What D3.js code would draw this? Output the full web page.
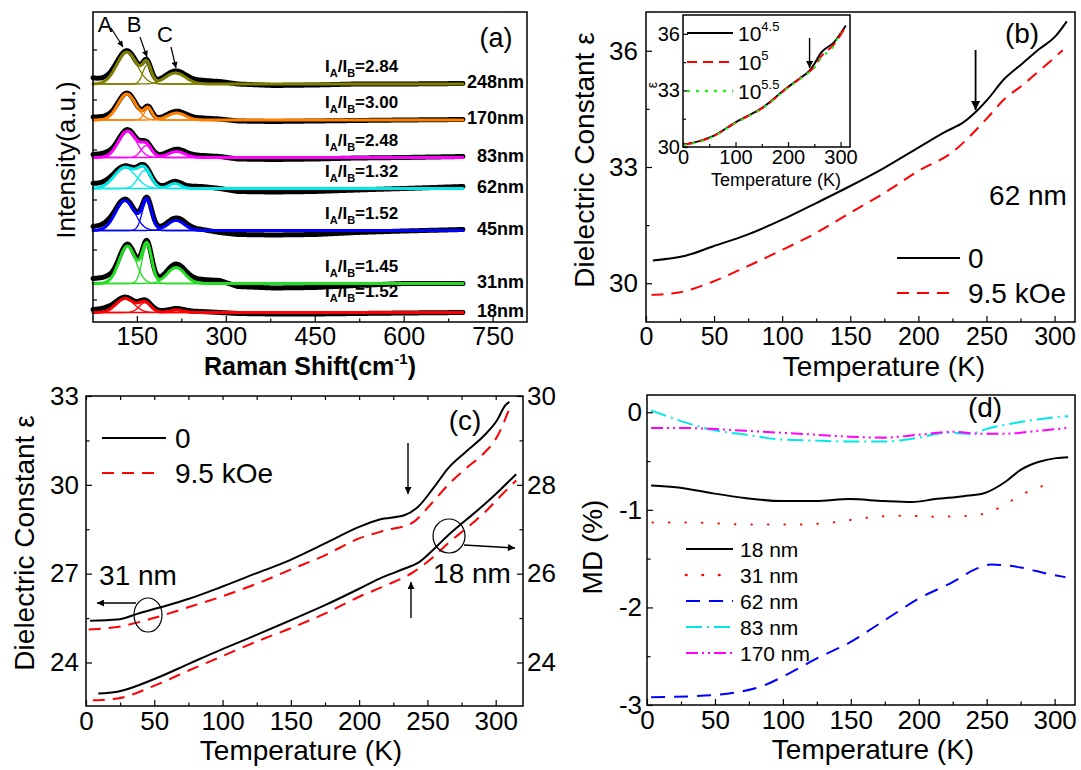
<!DOCTYPE html>
<html>
<head>
<meta charset="utf-8">
<title>Raman / dielectric</title>
<script src="https://cdn.jsdelivr.net/npm/d3@7"></script>
<style>
body { margin: 0; background: #fff; }
text { font-family: "Liberation Sans", Arial, sans-serif; fill: #000; }
.box { fill: none; stroke: #000; stroke-width: 1.5px; }
.tick line { stroke: #000; stroke-width: 1.2px; }
.curve { fill: none; stroke-width: 2px; }
</style>
</head>
<body>
<script>
// ---------- (a) Raman spectra ----------
var ramanMajor = [150, 300, 450, 600, 750];
var ramanMinor = [225, 375, 525, 675];
var sizes  = ["248nm", "170nm", "83nm", "62nm", "45nm", "31nm", "18nm"];
var ratios = ["2.84", "3.00", "2.48", "1.32", "1.52", "1.45", "1.52"];
var specColors = ["#7f7f00", "#ff8000", "#ff00ff", "#00e8e8", "#0000ff", "#22dd22", "#ff0000"];
var offsets = [4.31, 3.59, 2.84, 2.22, 1.38, 0.32, -0.26];
// [centre cm-1, height, sigma]
var peakA = [[133, 0.64, 17], [133, 0.52, 15], [134, 0.53, 15], [130, 0.42, 18], [130, 0.60, 16], [134, 0.75, 14], [130, 0.28, 15]];
var peakB = [[167, 0.38, 7], [169, 0.23, 6.5], [166, 0.24, 9], [163, 0.36, 11], [167, 0.60, 8], [167, 0.78, 8], [164, 0.20, 10]];
var peakC = [[215, 0.22, 17], [217, 0.14, 15], [217, 0.12, 14], [214, 0.10, 10], [216, 0.20, 14], [216, 0.32, 15], [217, 0.05, 12]];
var bgShift = [76, 100, 125, 175, 230, 260, 290, 320, 380, 450, 520, 600, 700];
var bgDev = [
  [0.12, 0.08, 0.03, 0.02, 0.05, 0.07, 0.05, 0.00, -0.03, -0.02, 0.00, 0.00, 0.01],
  [0.06, 0.06, 0.02, 0.02, 0.04, 0.04, 0.02, -0.02, -0.03, -0.02, -0.01, 0.00, 0.01],
  [0.06, 0.08, 0.03, 0.03, 0.05, 0.04, 0.02, -0.03, -0.04, -0.03, -0.01, 0.00, 0.02],
  [0.10, 0.08, 0.03, 0.03, 0.05, 0.04, 0.00, -0.06, -0.07, -0.06, -0.03, 0.00, 0.04],
  [0.08, 0.10, 0.03, 0.03, 0.06, 0.02, -0.04, -0.08, -0.09, -0.08, -0.04, -0.01, 0.02],
  [0.10, 0.12, 0.04, 0.04, 0.08, 0.08, 0.06, -0.06, -0.09, -0.08, -0.04, 0.00, 0.00],
  [0.06, 0.08, 0.03, 0.03, 0.03, 0.02, 0.00, -0.02, -0.03, -0.03, -0.02, -0.01, 0.00]
];

// ---------- (b) 62 nm ----------
var bT0 = [5, 29, 49, 74, 100, 125, 150, 175, 200, 221, 233, 243, 251, 263, 276, 289, 300, 309];
var bE0 = [30.59, 30.71, 30.95, 31.25, 31.64, 32.07, 32.51, 32.98, 33.50, 33.93, 34.15, 34.45, 34.75, 35.27, 35.66, 36.05, 36.35, 36.76];
var bT1 = [4, 24, 49, 74, 100, 125, 150, 175, 200, 226, 238, 251, 263, 276, 289, 306];
var bE1 = [29.70, 29.76, 30.04, 30.43, 30.86, 31.30, 31.82, 32.33, 32.90, 33.41, 33.80, 34.28, 34.75, 35.10, 35.49, 36.01];
// inset, three frequencies
var iT   = [1, 24, 56, 101, 153, 198, 224, 240, 250, 263, 288, 310];
var iE45 = [30.14, 30.26, 30.56, 31.32, 32.12, 33.14, 33.67, 34.02, 34.40, 35.00, 35.56, 36.44];
var iE5  = [30.12, 30.24, 30.55, 31.30, 32.10, 33.12, 33.65, 33.98, 34.25, 34.80, 35.45, 36.40];
var iT55 = [1, 24, 56, 101, 153, 198, 224, 240, 250, 263, 288, 300];
var iE55 = [30.10, 30.22, 30.53, 31.28, 32.08, 33.10, 33.62, 33.95, 34.20, 34.72, 35.40, 36.10];

// ---------- (c) 31 nm (left axis) and 18 nm (right axis) ----------
var c31T0 = [3, 23, 38, 56, 76, 99, 124, 149, 175, 200, 215, 233, 243, 255, 265, 278, 291, 301, 307, 310];
var c31E0 = [25.41, 25.45, 25.65, 25.88, 26.16, 26.55, 27.00, 27.45, 28.02, 28.58, 28.83, 28.97, 29.25, 29.93, 30.55, 31.11, 31.64, 32.18, 32.68, 32.80];
var c31T1 = [2, 23, 51, 76, 99, 124, 149, 175, 200, 220, 238, 253, 265, 278, 291, 301, 310];
var c31E1 = [25.11, 25.20, 25.52, 25.88, 26.22, 26.64, 27.12, 27.62, 28.19, 28.47, 28.69, 29.37, 29.99, 30.55, 31.05, 31.62, 32.57];
var c18T0 = [9, 23, 51, 76, 99, 124, 149, 175, 200, 215, 233, 244, 255, 265, 278, 291, 303, 315];
var c18E0 = [23.30, 23.34, 23.64, 23.98, 24.29, 24.61, 24.94, 25.29, 25.66, 25.89, 26.11, 26.26, 26.56, 26.86, 27.20, 27.54, 27.88, 28.24];
var c18T1 = [5, 23, 51, 76, 99, 124, 149, 175, 200, 220, 240, 253, 265, 278, 291, 303, 315];
var c18E1 = [23.15, 23.19, 23.49, 23.83, 24.13, 24.46, 24.76, 25.10, 25.48, 25.74, 26.04, 26.34, 26.68, 27.01, 27.35, 27.73, 28.10];

// ---------- (d) magnetodielectric ----------
var mdNames = ["18 nm", "31 nm", "62 nm", "83 nm", "170 nm"];
var mdColors = ["#000000", "#ff0000", "#0000ff", "#00e8e8", "#ff00ff"];
var mdDash = ["", "0.5,16", "14,9", "16,5,2,5", "12,4,2,4,2,4"];
var mdT = [
  [3, 23, 48, 73, 99, 124, 149, 174, 195, 212, 233, 248, 263, 275, 288, 301, 310],
  [4, 35, 73, 111, 136, 162, 187, 212, 238, 253, 264, 275, 288, 301],
  [3, 35, 66, 86, 104, 124, 149, 174, 200, 225, 243, 253, 275, 296, 308],
  [3, 23, 48, 73, 99, 124, 149, 174, 200, 220, 238, 250, 275, 301, 310],
  [3, 23, 48, 73, 99, 124, 149, 174, 200, 225, 245, 263, 288, 310]
];
var mdV = [
  [-0.75, -0.77, -0.83, -0.88, -0.91, -0.91, -0.89, -0.91, -0.92, -0.89, -0.86, -0.83, -0.72, -0.59, -0.51, -0.47, -0.46],
  [-1.13, -1.13, -1.15, -1.15, -1.13, -1.08, -1.06, -1.07, -1.06, -1.02, -0.94, -0.85, -0.77, -0.72],
  [-2.92, -2.91, -2.87, -2.80, -2.68, -2.53, -2.36, -2.14, -1.91, -1.74, -1.60, -1.56, -1.59, -1.66, -1.69],
  [0.02, -0.08, -0.18, -0.23, -0.28, -0.29, -0.30, -0.30, -0.26, -0.21, -0.22, -0.17, -0.10, -0.05, -0.04],
  [-0.16, -0.16, -0.17, -0.19, -0.21, -0.23, -0.25, -0.26, -0.23, -0.20, -0.22, -0.22, -0.19, -0.16]
];

var tMajor = [0, 50, 100, 150, 200, 250, 300];
var tMinor = [25, 75, 125, 175, 225, 275];

var svg = d3.select("body").append("svg").attr("width", 1081).attr("height", 770);
var defs = svg.append("defs");
function marker(id, w, h) {
  defs.append("marker").attr("id", id).attr("viewBox", "0 0 10 10")
    .attr("refX", 10).attr("refY", 5).attr("markerUnits", "userSpaceOnUse")
    .attr("markerWidth", w).attr("markerHeight", h).attr("orient", "auto")
    .append("path").attr("d", "M0,0 L10,5 L0,10 z").attr("fill", "#000");
}
marker("big", 15, 9);
marker("small", 10, 7);
marker("tiny", 8, 6);

function box(x0, y0, x1, y1) {
  svg.append("rect").attr("class", "box").attr("x", x0).attr("y", y0)
    .attr("width", x1 - x0).attr("height", y1 - y0);
}
function axis(gen, tx, ty, vals, size, pad, fs) {
  var g = svg.append("g").attr("transform", "translate(" + tx + "," + ty + ")")
    .call(gen.tickValues(vals).tickSize(-size).tickPadding(pad)
      .tickFormat(fs ? function(d) { return String(d); } : ""));
  g.select(".domain").remove();
  g.selectAll("text").style("font-size", fs + "px");
  return g;
}
function label(x, y, str, fs, opts) {
  opts = opts || {};
  var t = svg.append("text").attr("x", x).attr("y", y).text(str)
    .style("font-size", fs + "px").attr("text-anchor", opts.anchor || "middle")
    .attr("dominant-baseline", "central");
  if (opts.rotate) t.attr("transform", "rotate(-90," + x + "," + y + ")");
  if (opts.bold) t.style("font-weight", "bold");
  return t;
}
function arrow(x1, y1, x2, y2, m, w) {
  svg.append("line").attr("x1", x1).attr("y1", y1).attr("x2", x2).attr("y2", y2)
    .attr("stroke", "#000").attr("stroke-width", w).attr("marker-end", "url(#" + m + ")");
}
function curve(xs, ys, T, E, color, dash, w) {
  var pts = T.map(function(t, i) { return [t, E[i]]; });
  svg.append("path").datum(pts).attr("class", "curve")
    .attr("d", d3.line().x(function(d) { return xs(d[0]); }).y(function(d) { return ys(d[1]); }).curve(d3.curveMonotoneX))
    .attr("stroke", color).attr("stroke-dasharray", dash || null)
    .attr("stroke-width", w || 2).attr("stroke-linecap", dash && dash.indexOf("0.5") === 0 ? "round" : "butt");
}
function legLine(x1, x2, y, color, dash, w) {
  svg.append("line").attr("x1", x1).attr("x2", x2).attr("y1", y).attr("y2", y)
    .attr("stroke", color).attr("stroke-width", w || 2).attr("stroke-dasharray", dash || null)
    .attr("stroke-linecap", dash && dash.indexOf("0.5") === 0 ? "round" : "butt");
}

// ================= panel (a) =================
var xa = d3.scaleLinear().domain([76, 808]).range([93, 527]);
var ya = d3.scaleLinear().domain([-0.45, 5.75]).range([322, 12]);
var grid = d3.range(76, 701, 2);
function gauss(p, s) { return p[1] * Math.exp(-(s - p[0]) * (s - p[0]) / (2 * p[2] * p[2])); }
var lineA = d3.line().x(function(d) { return xa(d[0]); }).y(function(d) { return ya(d[1]); }).curve(d3.curveBasis);

sizes.forEach(function(name, i) {
  var bg = d3.scaleLinear().domain(bgShift).range(bgDev[i]);
  var fit = grid.map(function(s) {
    return [s, offsets[i] + gauss(peakA[i], s) + gauss(peakB[i], s) + gauss(peakC[i], s)];
  });
  var meas = fit.map(function(d) { return [d[0], d[1] + bg(d[0])]; });
  svg.append("path").datum(meas).attr("d", lineA).attr("fill", "none")
    .attr("stroke", "#000").attr("stroke-width", 5).attr("stroke-linejoin", "round").attr("stroke-linecap", "round");
  svg.append("path").datum(fit).attr("d", lineA).attr("fill", "none")
    .attr("stroke", specColors[i]).attr("stroke-width", 3).attr("stroke-linecap", "round");
  [peakA[i], peakB[i], peakC[i]].forEach(function(p) {
    var comp = grid.filter(function(s) { return s <= 320; })
      .map(function(s) { return [s, offsets[i] + gauss(p, s)]; });
    svg.append("path").datum(comp).attr("d", lineA).attr("fill", "none")
      .attr("stroke", specColors[i]).attr("stroke-width", 1.3);
  });
  var t = svg.append("text").attr("x", 325).attr("y", ya(offsets[i]) - (i === 6 ? 16 : 12))
    .style("font-size", "17px").style("font-weight", "bold");
  t.append("tspan").text("I");
  t.append("tspan").attr("dy", 5).style("font-size", "11px").text("A");
  t.append("tspan").attr("dy", -5).text("/I");
  t.append("tspan").attr("dy", 5).style("font-size", "11px").text("B");
  t.append("tspan").attr("dy", -5).text("=" + ratios[i]);
  label(524, ya(offsets[i]) - 2, name, 18, { anchor: "end", bold: true });
});
box(93, 12, 527, 322);
axis(d3.axisBottom(xa), 0, 322, ramanMajor, 6, 5, 25);
axis(d3.axisBottom(xa), 0, 322, ramanMinor, 3.5, 5, 0);
axis(d3.axisLeft(ya), 93, 0, [0, 1, 2, 3, 4, 5], 4, 4, 0);
label(105, 24, "A", 22);
label(134, 24, "B", 22);
label(165, 34, "C", 22);
arrow(111, 28, 123, 47, "tiny", 1.2);
arrow(140, 37, 147, 57, "tiny", 1.2);
arrow(171, 47, 176, 68, "tiny", 1.2);
label(496, 38, "(a)", 27);
label(66, 160, "Intensity(a.u.)", 26, { rotate: true });
var xl = svg.append("text").attr("x", 310).attr("y", 375).attr("text-anchor", "middle")
  .style("font-size", "25px").style("font-weight", "bold");
xl.append("tspan").text("Raman Shift(cm");
xl.append("tspan").attr("dy", -11).style("font-size", "15px").text("-1");
xl.append("tspan").attr("dy", 11).text(")");

// ================= panel (b) =================
var xb = d3.scaleLinear().domain([0, 315]).range([646, 1075]);
var yb = d3.scaleLinear().domain([29, 37]).range([322, 12]);
box(646, 12, 1075, 322);
axis(d3.axisBottom(xb), 0, 322, tMajor, 6, 5, 25);
axis(d3.axisBottom(xb), 0, 322, tMinor, 3.5, 5, 0);
axis(d3.axisLeft(yb), 646, 0, [30, 33, 36], 6, 8, 26);
axis(d3.axisLeft(yb), 646, 0, [31.5, 34.5], 3.5, 8, 0);
curve(xb, yb, bT0, bE0, "#000");
curve(xb, yb, bT1, bE1, "#ff0000", "12,8");
arrow(xb(242), 50, xb(242), 110, "big", 1.8);
label(1022, 33, "(b)", 28);
label(1028, 195, "62 nm", 28);
legLine(897, 960, 258, "#000");
label(968, 258, "0", 28, { anchor: "start" });
legLine(897, 955, 293, "#ff0000", "12,8");
label(968, 293, "9.5 kOe", 28, { anchor: "start" });
label(584, 160, "Dielectric Constant \u03b5", 28, { rotate: true });
label(884, 366, "Temperature (K)", 28);

// inset
var xi = d3.scaleLinear().domain([0, 318]).range([683, 850]);
var yi = d3.scaleLinear().domain([30, 37]).range([147, 15]);
svg.append("rect").attr("x", 683).attr("y", 15).attr("width", 167).attr("height", 132).attr("fill", "#fff");
curve(xi, yi, iT, iE45, "#000", null, 2);
curve(xi, yi, iT, iE5, "#ff0000", "10,6", 2.2);
curve(xi, yi, iT55, iE55, "#22ee22", "3,6", 2.5);
box(683, 15, 850, 147);
axis(d3.axisBottom(xi), 0, 147, [0, 100, 200, 300], 5, 3, 20);
axis(d3.axisBottom(xi), 0, 147, [50, 150, 250], 3, 3, 0);
axis(d3.axisLeft(yi), 683, 0, [30, 33, 36], 5, 3, 20);
axis(d3.axisLeft(yi), 683, 0, [31.5, 34.5], 3, 3, 0);
arrow(xi(241), 38, xi(241), 68, "small", 1.4);
legLine(687, 733, 33, "#000");
legLine(687, 733, 62, "#ff0000", "10,6", 2.2);
legLine(687, 733, 91, "#22ee22", "3,6", 2.5);
["4.5", "5", "5.5"].forEach(function(e, k) {
  var t = svg.append("text").attr("x", 738).attr("y", [41, 70, 99][k]).style("font-size", "21px");
  t.append("tspan").text("10");
  t.append("tspan").attr("dy", -10).style("font-size", "13px").text(e);
});
label(652, 85, "\u03b5", 14, { rotate: true });
label(776, 180, "Temperature (K)", 18);

// ================= panel (c) =================
var xc = d3.scaleLinear().domain([0, 320]).range([86, 523]);
var ycL = d3.scaleLinear().domain([22.53, 33]).range([706, 396]);
var ycR = d3.scaleLinear().domain([23.02, 30]).range([706, 396]);
box(86, 396, 523, 706);
axis(d3.axisBottom(xc), 0, 706, tMajor, 6, 6, 26);
axis(d3.axisBottom(xc), 0, 706, tMinor, 3.5, 6, 0);
axis(d3.axisTop(xc), 0, 396, tMajor.concat(tMinor), 4, 0, 0);
axis(d3.axisLeft(ycL), 86, 0, [24, 27, 30, 33], 6, 7, 26);
axis(d3.axisLeft(ycL), 86, 0, [25.5, 28.5, 31.5], 3.5, 7, 0);
axis(d3.axisRight(ycR), 523, 0, [24, 26, 28, 30], 6, 4, 26);
axis(d3.axisRight(ycR), 523, 0, [25, 27, 29], 3.5, 4, 0);
curve(xc, ycL, c31T0, c31E0, "#000");
curve(xc, ycL, c31T1, c31E1, "#ff0000", "12,8");
curve(xc, ycR, c18T0, c18E0, "#000");
curve(xc, ycR, c18T1, c18E1, "#ff0000", "12,8");
legLine(102, 166, 438, "#000");
label(175, 438, "0", 28, { anchor: "start" });
legLine(102, 160, 473, "#ff0000", "12,8");
label(175, 473, "9.5 kOe", 28, { anchor: "start" });
label(465, 420, "(c)", 28);
label(138, 575, "31 nm", 28);
label(472, 573, "18 nm", 28);
svg.append("ellipse").attr("cx", 148).attr("cy", 615).attr("rx", 14).attr("ry", 17)
  .attr("fill", "none").attr("stroke", "#000").attr("stroke-width", 1.2);
svg.append("ellipse").attr("cx", 449).attr("cy", 536).attr("rx", 16).attr("ry", 17)
  .attr("fill", "none").attr("stroke", "#000").attr("stroke-width", 1.2);
arrow(136, 603, 97, 603, "small", 1.4);
arrow(464, 545, 515, 548, "small", 1.4);
arrow(408, 443, 408, 494, "small", 1.4);
arrow(411, 618, 411, 582, "small", 1.4);
label(24, 543, "Dielectric Constant \u03b5", 28, { rotate: true });
label(301, 750, "Temperature (K)", 28);

// ================= panel (d) =================
var xd = d3.scaleLinear().domain([0, 315]).range([647, 1075]);
var yd = d3.scaleLinear().domain([-3, 0.177]).range([705, 395]);
box(647, 395, 1075, 705);
axis(d3.axisBottom(xd), 0, 705, tMajor, 6, 6, 26);
axis(d3.axisBottom(xd), 0, 705, tMinor, 3.5, 6, 0);
axis(d3.axisLeft(yd), 647, 0, [0, -1, -2, -3], 6, 5, 26);
axis(d3.axisLeft(yd), 647, 0, [-0.5, -1.5, -2.5], 3.5, 5, 0);
mdNames.forEach(function(n, k) {
  curve(xd, yd, mdT[k], mdV[k], mdColors[k], mdDash[k], k === 1 ? 2.6 : 2);
  var ly = 549 + k * 26;
  legLine(686, 733, ly, mdColors[k], mdDash[k], k === 1 ? 2.6 : 2);
  label(740, ly, n, 21, { anchor: "start" });
});
label(985, 407, "(d)", 28);
label(592, 547, "MD (%)", 28, { rotate: true });
label(873, 749, "Temperature (K)", 28);
</script>
</body>
</html>
